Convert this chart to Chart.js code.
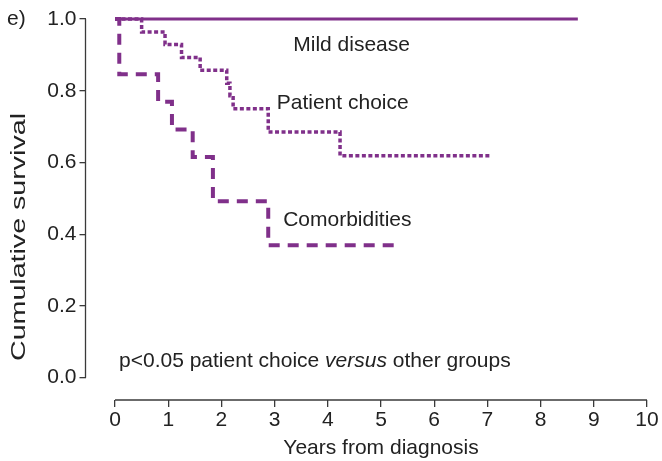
<!DOCTYPE html>
<html>
<head>
<meta charset="utf-8">
<script src="https://cdn.jsdelivr.net/npm/chart.js@4/dist/chart.umd.min.js"></script>
<style>
  html, body { margin: 0; padding: 0; background: #ffffff; }
  #wrap { width: 662px; height: 461px; }
</style>
</head>
<body>
<div id="wrap"><canvas id="km" width="662" height="461"></canvas></div>
<script>
// Axis tick values
const yearTicks = [0, 1, 2, 3, 4, 5, 6, 7, 8, 9, 10];
const survivalTicks = [0, 0.2, 0.4, 0.6, 0.8, 1.0];

// Kaplan-Meier step curves: event times (years) and survival after each step
const mildTimes = [0, 8.70];
const mildSurvival = [1.0, 1.0];

const choiceTimes = [0, 0.50, 0.94, 1.25, 1.60, 2.10, 2.16, 2.22, 2.88, 4.23, 7.08];
const choiceSurvival = [1.0, 0.964, 0.929, 0.893, 0.857, 0.821, 0.786, 0.750, 0.685, 0.619, 0.619];

const comorbTimes = [0, 0.08, 0.81, 1.07, 1.46, 1.84, 2.88, 5.29];
const comorbSurvival = [1.0, 0.846, 0.769, 0.692, 0.615, 0.492, 0.369, 0.369];

const groupNames = ['Mild disease', 'Patient choice', 'Comorbidities'];

const FONT = '"Liberation Sans", Arial, Helvetica, sans-serif';
const PURPLE = '#80308a';
const INK = '#222222';
const AXIS = '#3a3a3a';

function toPoints(xs, ys) {
  return xs.map((x, i) => ({ x: x, y: ys[i] }));
}

// Draws the detached axis lines plus the curve labels and panel text
const decorations = {
  id: 'decorations',
  afterDraw(chart) {
    const { ctx, chartArea, scales } = chart;
    const xs = scales.x, ys = scales.y;
    ctx.save();
    ctx.strokeStyle = AXIS;
    ctx.lineWidth = 1.3;
    ctx.beginPath();
    ctx.moveTo(chartArea.left, ys.getPixelForValue(1.0));
    ctx.lineTo(chartArea.left, ys.getPixelForValue(0));
    ctx.stroke();
    ctx.beginPath();
    ctx.moveTo(xs.getPixelForValue(0), chartArea.bottom);
    ctx.lineTo(xs.getPixelForValue(10), chartArea.bottom);
    ctx.stroke();

    ctx.fillStyle = INK;
    ctx.textBaseline = 'middle';
    ctx.textAlign = 'left';
    ctx.font = '21px ' + FONT;
    const labels = [
      [groupNames[0], 3.35, 0.926],
      [groupNames[1], 3.04, 0.764],
      [groupNames[2], 3.16, 0.44]
    ];
    labels.forEach(([t, x, y]) => {
      ctx.fillText(t, xs.getPixelForValue(x), ys.getPixelForValue(y));
    });

    // p-value note with italic "versus"
    let px = xs.getPixelForValue(0.075);
    const py = ys.getPixelForValue(0.047);
    const parts = [
      ['p<0.05 patient choice ', ''],
      ['versus', 'italic '],
      [' other groups', '']
    ];
    parts.forEach(([t, st]) => {
      ctx.font = st + '21px ' + FONT;
      ctx.fillText(t, px, py);
      px += ctx.measureText(t).width;
    });

    ctx.font = '21px ' + FONT;
    ctx.fillText('e)', 7, 19);

    // axis titles
    ctx.textAlign = 'center';
    ctx.fillText('Years from diagnosis', xs.getPixelForValue(5), 448);

    // the vertical title is set with wide tracking along the axis
    const yTitle = 'Cumulative survival';
    const stretch = 248 / ctx.measureText(yTitle).width;
    ctx.translate(19.5, 237);
    ctx.rotate(-Math.PI / 2);
    ctx.scale(stretch, 1);
    ctx.fillText(yTitle, 0, 0);
    ctx.restore();
  }
};

new Chart(document.getElementById('km'), {
  type: 'line',
  data: {
    datasets: [
      {
        label: groupNames[0],
        data: toPoints(mildTimes, mildSurvival),
        borderColor: PURPLE,
        borderWidth: 3,
        stepped: true,
        pointRadius: 0,
        fill: false,
        clip: false
      },
      {
        label: groupNames[1],
        data: toPoints(choiceTimes, choiceSurvival),
        borderColor: PURPLE,
        borderWidth: 3.5,
        borderDash: [4, 2.5],
        stepped: true,
        pointRadius: 0,
        fill: false,
        clip: false
      },
      {
        label: groupNames[2],
        data: toPoints(comorbTimes, comorbSurvival),
        borderColor: PURPLE,
        borderWidth: 4,
        borderDash: [11, 8],
        stepped: true,
        pointRadius: 0,
        fill: false,
        clip: false
      }
    ]
  },
  options: {
    responsive: false,
    animation: false,
    devicePixelRatio: 1,
    layout: { padding: { left: 0, right: 15, top: 19, bottom: 0 } },
    plugins: {
      legend: { display: false },
      tooltip: { enabled: false }
    },
    scales: {
      x: {
        type: 'linear',
        min: -0.555,
        max: 10,
        afterBuildTicks: s => { s.ticks = yearTicks.map(v => ({ value: v })); },
        afterFit: s => { s.height = 61; },
        grid: { drawOnChartArea: false, drawTicks: true, tickLength: 7, color: AXIS, lineWidth: 1.3 },
        border: { display: false },
        ticks: {
          font: { family: FONT, size: 21 },
          color: INK,
          padding: 1,
          maxRotation: 0,
          autoSkip: false,
          callback: v => String(v)
        }
      },
      y: {
        type: 'linear',
        min: -0.0622,
        max: 1.0,
        afterBuildTicks: s => { s.ticks = survivalTicks.map(v => ({ value: v })); },
        afterFit: s => { s.width = 85.5; },
        grid: { drawOnChartArea: false, drawTicks: true, tickLength: 6, color: AXIS, lineWidth: 1.3 },
        border: { display: false },
        ticks: {
          font: { family: FONT, size: 21 },
          color: INK,
          padding: 3,
          autoSkip: false,
          callback: v => v.toFixed(1)
        }
      }
    }
  },
  plugins: [decorations]
});
</script>
</body>
</html>
